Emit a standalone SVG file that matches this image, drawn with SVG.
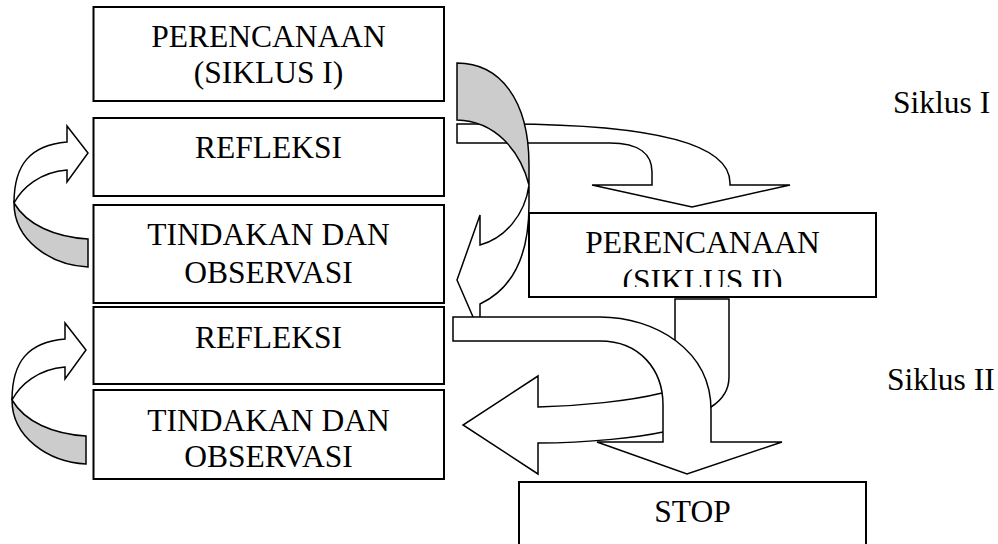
<svg xmlns="http://www.w3.org/2000/svg" width="998" height="544" viewBox="0 0 998 544">
<style>
.box{fill:#fff;stroke:#000;stroke-width:2}
.arr{fill:#fff;stroke:#000;stroke-width:1.5;stroke-linejoin:miter}
.back{fill:#cccccc;stroke:#000;stroke-width:1.5}
text{font-family:"Liberation Serif","Times New Roman",serif;font-size:31.5px;fill:#000}
.c{text-anchor:middle}
</style>
<defs>
<clipPath id="clip2"><rect x="529" y="213" width="347" height="74"/></clipPath>
<g id="loopArrow">
<path class="arr" d="M67,142 C30,145 14,165 14,203 C22,188 40,172 67,170 L67,182 L88,153 L67,126 Z"/>
<path class="back" d="M14,203 C14,240 50,265 88,267 L88,239 C55,237 27,225 14,203 Z"/>
</g>
</defs>
<rect width="998" height="544" fill="#fff"/>
<g id="connectors">
<use href="#loopArrow"/>
<use href="#loopArrow" transform="translate(-2,197)"/>
<path class="arr" d="M457,124 L500,124 C640,124 730,140 730,183 L730,185 L790,185 L692,207 L592,185 L652,185 L652,172 C652,155 640,143 610,143 L457,143 Z"/>
<path class="back" d="M457,63 C500,63 529,100 529,165 L529,185 C520,150 495,121 457,120 Z"/>
<path class="arr" d="M529,185 L529,205 C529,260 510,290 480,304 L480,333 L457,280 L480,215 L480,245 C505,238 525,215 529,185 Z"/>
<path class="arr" d="M675,299 L729,299 L729,377 C729,390 722,400 711,407 L690,425 L663,432 C640,437 590,443 538,443 L538,474 L463,425 L538,376 L538,407 C580,406 630,401 662,393 L675,380 Z"/>
<path class="arr" d="M453,317 L600,317 C655,317 711,350 711,410 L711,442 L782,442 L687,474 L597,442 L663,442 L663,405 C663,370 640,341 600,341 L453,341 Z"/>
</g>
<g id="perencanaan1">
<rect class="box" x="93.5" y="7" width="350.5" height="94"/>
<text class="c" x="268.5" y="47">PERENCANAAN</text>
<text class="c" x="268.5" y="83">(SIKLUS I)</text>
</g>
<g id="refleksi1">
<rect class="box" x="93.5" y="118" width="350.5" height="78"/>
<text class="c" x="268.5" y="158">REFLEKSI</text>
</g>
<g id="tindakan1">
<rect class="box" x="93.5" y="205" width="350.5" height="98"/>
<text class="c" x="268.5" y="245">TINDAKAN DAN</text>
<text class="c" x="268.5" y="283">OBSERVASI</text>
</g>
<g id="refleksi2">
<rect class="box" x="93.5" y="307" width="350.5" height="77"/>
<text class="c" x="268.5" y="348">REFLEKSI</text>
</g>
<g id="tindakan2">
<rect class="box" x="93.5" y="390" width="350.5" height="89"/>
<text class="c" x="268.5" y="431">TINDAKAN DAN</text>
<text class="c" x="268.5" y="467">OBSERVASI</text>
</g>
<g id="perencanaan2">
<rect class="box" x="529" y="213" width="347" height="84"/>
<g clip-path="url(#clip2)">
<text class="c" x="702.5" y="253">PERENCANAAN</text>
<text class="c" x="702.5" y="291">(SIKLUS II)</text>
</g>
</g>
<g id="stop">
<rect class="box" x="519" y="482" width="347" height="66"/>
<text class="c" x="692.5" y="522">STOP</text>
</g>
<g id="labels">
<text x="893" y="113">Siklus I</text>
<text x="887" y="390">Siklus II</text>
</g>
</svg>
